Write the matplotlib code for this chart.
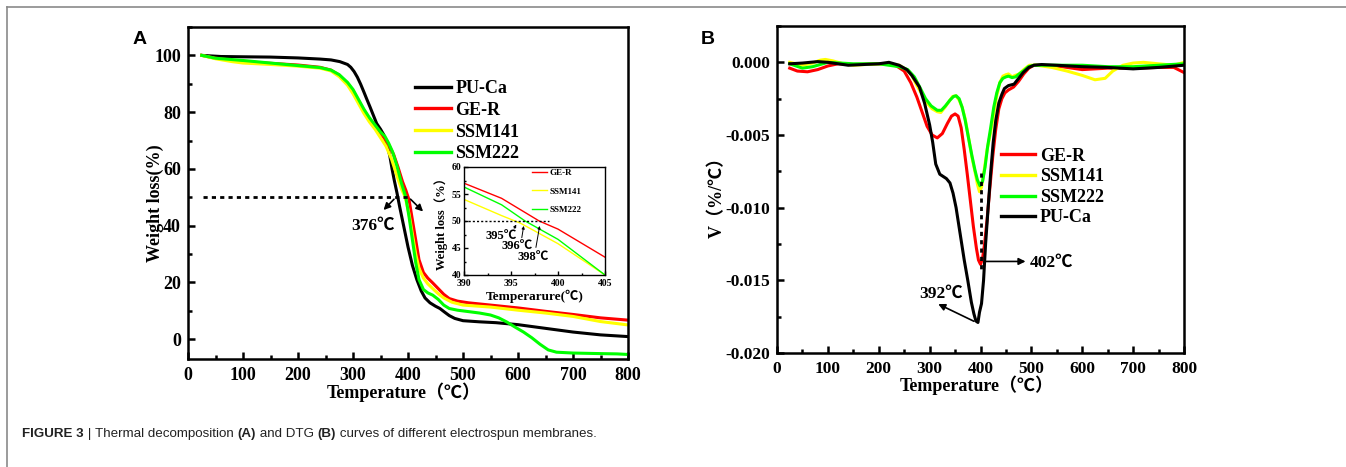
import numpy as np
import matplotlib
matplotlib.use("Agg")
import matplotlib.pyplot as plt
from matplotlib.ticker import MultipleLocator

SERIF = ['Liberation Serif', 'Noto Sans CJK SC', 'DejaVu Sans']
plt.rcParams['font.family'] = SERIF
plt.rcParams['font.weight'] = 'bold'

# ---------------- Panel A: TGA data ----------------
pu_T = [25, 60, 100, 150, 200, 240, 260, 276, 290, 296, 302, 308, 314, 320, 325, 331, 337, 343, 350, 356, 362, 367,
        371, 375, 380, 385, 392, 400, 408, 416, 424, 431, 440, 450, 458, 466, 475, 485, 500, 530, 560, 600, 650, 700,
        750, 800]
pu_W = [100, 99.6, 99.5, 99.4, 99.1, 98.7, 98.4, 97.8, 96.8, 95.8, 94.3, 92.3, 89.8, 87.0, 84.6, 81.8, 78.9, 76.0,
        74.0, 72.0, 68.5, 64.5, 60.0, 56.0, 51.5, 46.5, 40, 32.5, 26, 21, 17, 14.5, 12.8, 11.6, 10.8, 9.6, 8.3, 7.3,
        6.5, 6.1, 5.8, 5.1, 3.8, 2.5, 1.5, 0.9]

ge_T = [25, 50, 100, 150, 200, 240, 260, 275, 290, 300, 310, 320, 330, 340, 350, 358, 366, 374, 382, 390, 396, 402,
        408, 414, 420, 428, 436, 445, 455, 465, 475, 490, 510, 550, 600, 650, 700, 750, 800]
ge_W = [100, 99, 97.8, 97.2, 96.6, 95.8, 94.8, 93, 90, 87.5, 84, 80.5, 77.5, 75, 72.5, 70.5, 68, 65, 60.5, 55.5, 52.5,
        49, 42, 35, 28, 23.5, 21.5, 19.8, 17.8, 15.8, 14.3, 13.4, 12.8, 12, 11, 9.8, 8.7, 7.5, 6.7]

s141_T = [25, 50, 80, 100, 150, 200, 240, 260, 275, 290, 300, 310, 320, 330, 340, 350, 360, 370, 380, 388, 395, 402,
          408, 414, 420, 428, 436, 445, 455, 465, 480, 500, 550, 600, 650, 700, 750, 800]
s141_W = [100, 98.8, 97.8, 97.3, 96.8, 96.2, 95.5, 94.5, 92.5, 89.5, 86.5, 83, 79.5, 76.5, 74, 71, 68, 63.5, 57.5, 53,
          50, 44, 37, 30, 25, 21.5, 19.5, 17.8, 16, 14.5, 13, 12, 11.3, 10.2, 9.2, 8, 6.2, 5.0]

s222_T = [25, 50, 100, 150, 200, 240, 260, 275, 290, 300, 310, 320, 330, 340, 350, 358, 365, 372, 380, 388, 396, 402,
          408, 414, 420, 428, 436, 445, 455, 465, 475, 490, 510, 530, 550, 565, 580, 595, 610, 625, 640, 655, 670, 700,
          750, 780, 800]
s222_W = [100, 99, 98.2, 97.3, 96.4, 95.7, 94.8, 93.2, 90.5, 88, 84.5, 81, 78, 75.5, 73, 71.5, 69, 66, 61, 55, 50, 43,
          35, 27, 21, 17.5, 16.3, 15.5, 14, 12, 10.8, 10.2, 9.7, 9.2, 8.5, 7.5, 6, 4.2, 2.5, 0.5, -1.8, -3.8, -4.6,
          -4.9, -5.1, -5.2, -5.4]

# inset (zoom 390-405 C)
in_ge_T = [390, 394, 398, 400, 405]
in_ge_W = [57, 54.2, 50, 48.5, 43.3]
in_141_T = [390, 394, 396, 400, 405]
in_141_W = [54, 51, 49.6, 45.8, 40]
in_222_T = [390, 394, 396.5, 400, 405]
in_222_W = [56.3, 53, 50, 46.6, 40]

# ---------------- Panel B: DTG data (units of 0.001 %/C) ----------------
dpu_T = [25, 50, 80, 100, 120, 140, 170, 200, 220, 240, 255, 265, 280, 290, 300, 306, 312, 320, 333, 340, 346, 352,
         360, 368, 375, 382, 387, 391, 395, 398, 402, 406, 410, 415, 420, 425, 430, 436, 442, 447, 455, 466, 475, 484,
         495, 505, 520, 550, 600, 650, 700, 750, 800]
dpu_V = [-0.1, -0.05, 0.05, 0.0, -0.1, -0.2, -0.15, -0.1, 0.0, -0.2, -0.5, -0.9, -1.7, -2.8, -4.3, -5.5, -7.0, -7.7,
         -8.0, -8.3, -9.0, -10.0, -11.8, -13.6, -15.0, -16.5, -17.3, -17.8, -17.9, -17.2, -16.6, -15.0, -12.5, -10.0,
         -7.6, -5.5, -4.0, -2.8, -2.2, -1.8, -1.6, -1.5, -1.1, -0.7, -0.35, -0.2, -0.15, -0.2, -0.3, -0.35, -0.45,
         -0.35, -0.2]

dge_T = [25, 40, 60, 80, 100, 120, 150, 200, 220, 235, 250, 263, 275, 285, 295, 305, 315, 325, 335, 343, 350, 356,
         362, 368, 374, 380, 386, 392, 396, 400, 404, 408, 413, 418, 424, 430, 436, 442, 448, 455, 465, 475, 485, 495,
         505, 520, 560, 600, 650, 700, 750, 780, 800]
dge_V = [-0.4, -0.6, -0.65, -0.5, -0.25, -0.1, -0.15, -0.1, -0.1, -0.25, -0.6, -1.4, -2.4, -3.4, -4.4, -5.0, -5.2,
         -4.9, -4.2, -3.7, -3.55, -3.7, -4.5, -6.0, -7.7, -9.5, -11.3, -12.8, -13.6, -13.9, -13.5, -12.5, -10.8, -8.8,
         -6.5, -4.6, -3.2, -2.5, -2.1, -1.9, -1.7, -1.3, -0.8, -0.4, -0.2, -0.2, -0.3, -0.5, -0.4, -0.4, -0.35, -0.35,
         -0.7]

d141_T = [25, 50, 70, 85, 95, 110, 130, 150, 200, 240, 255, 265, 275, 285, 295, 305, 315, 322, 330, 338, 345, 352,
          358, 364, 370, 377, 383, 389, 394, 398, 402, 407, 413, 420, 426, 432, 438, 444, 450, 455, 462, 468, 476, 485,
          496, 510, 540, 570, 600, 625, 645, 660, 680, 700, 720, 750, 780, 800]
d141_V = [0.0, -0.2, -0.05, 0.15, 0.2, 0.1, -0.1, -0.2, -0.1, -0.2, -0.5, -0.9, -1.6, -2.2, -2.8, -3.2, -3.4, -3.45,
          -3.1, -2.7, -2.35, -2.3, -2.6, -3.1, -3.9, -5.3, -6.5, -7.5, -8.4, -8.9, -8.6, -7.5, -6.0, -4.8, -3.5, -2.3,
          -1.4, -0.95, -0.85, -0.8, -1.0, -0.9, -0.8, -0.5, -0.2, -0.2, -0.35, -0.6, -0.9, -1.2, -1.1, -0.6, -0.2,
          -0.05, 0.0, -0.1, -0.2, 0.0]

d222_T = [25, 50, 70, 100, 150, 200, 240, 257, 270, 282, 292, 303, 315, 323, 331, 340, 347, 352, 358, 364, 370, 377,
          383, 389, 394, 399, 404, 409, 414, 420, 426, 432, 438, 444, 450, 455, 462, 469, 476, 484, 494, 505, 550, 600,
          650, 700, 750, 800]
d222_V = [-0.1, -0.4, -0.3, 0.0, -0.1, -0.1, -0.3, -0.5, -1.0, -1.8, -2.5, -3.0, -3.3, -3.3, -3.0, -2.6, -2.35, -2.3,
          -2.5, -3.1, -4.0, -5.3, -6.4, -7.4, -8.1, -8.5, -8.2, -7.2, -5.8, -4.5, -3.1, -2.1, -1.4, -1.1, -1.0, -0.95,
          -1.05, -1.0, -0.8, -0.6, -0.3, -0.2, -0.2, -0.2, -0.3, -0.3, -0.2, -0.1]

RED, YEL, GRN, BLK = '#ff0000', '#ffff00', '#00ff00', '#000000'

W_PX, H_PX = 1346, 467
fig = plt.figure(figsize=(W_PX / 100, H_PX / 100), dpi=100)


def ax_rect(l, t, r, b):
    return [l / W_PX, 1 - b / H_PX, (r - l) / W_PX, (b - t) / H_PX]


def style_axes(ax, lw=1.8, size=13, major=5, minor=3, pad=6):
    for sp in ax.spines.values():
        sp.set_linewidth(lw)
    ax.tick_params(which='both', direction='in', top=False, right=False, width=lw)
    ax.tick_params(which='major', length=major, labelsize=size, pad=pad)
    ax.tick_params(which='minor', length=minor)
    for lab in ax.get_xticklabels() + ax.get_yticklabels():
        lab.set_fontweight('bold')


# ---------- Panel A ----------
axA = fig.add_axes(ax_rect(188, 27, 628, 359))
axA.plot(pu_T, pu_W, color=BLK, lw=2.2, label='PU-Ca')
axA.plot(ge_T, ge_W, color=RED, lw=2.2, label='GE-R')
axA.plot(s141_T, s141_W, color=YEL, lw=2.2, label='SSM141')
axA.plot(s222_T, s222_W, color=GRN, lw=2.2, label='SSM222')
axA.set_xlim(0, 800)
axA.set_ylim(-7, 110)
axA.xaxis.set_major_locator(MultipleLocator(100))
axA.xaxis.set_minor_locator(MultipleLocator(50))
axA.yaxis.set_minor_locator(MultipleLocator(10))
axA.set_yticks([0, 20, 40, 60, 80, 100])
style_axes(axA)
axA.tick_params(axis='y', pad=5)
axA.set_xlabel('Temperature（℃）', fontsize=13, fontweight='bold')
axA.xaxis.set_label_coords(0.49, -0.07)
axA.set_ylabel('Weight loss(%)', fontsize=13, fontweight='bold')
axA.yaxis.set_label_coords(-0.055, 0.47)
legA = axA.legend(loc='upper left', bbox_to_anchor=(0.515, 0.84), frameon=False, fontsize=13,
                  handlelength=2.0, handletextpad=0.25, labelspacing=0.26, borderpad=0, borderaxespad=0)
for t in legA.get_texts():
    t.set_fontweight('bold')
for l in legA.get_lines():
    l.set_linewidth(2.4)

axA.plot([27, 403], [50, 50], color=BLK, lw=2, ls=(0, (1.5, 1.5)))
arr = dict(arrowstyle='-|>', color=BLK, lw=1.2, mutation_scale=10)
axA.annotate('', xy=(352, 44.8), xytext=(378, 50), arrowprops=arr)
axA.annotate('', xy=(431, 44.3), xytext=(401, 50), arrowprops=arr)
axA.text(336, 40, '376℃', fontsize=12.5, fontweight='bold', ha='center', va='center')
fig.text(140 / W_PX, 1 - 40 / H_PX, 'A', fontsize=14, fontweight='bold', family='Liberation Sans',
         ha='center', va='center')

# inset
axI = fig.add_axes(ax_rect(464, 167, 605, 275))
axI.plot(in_ge_T, in_ge_W, color=RED, lw=1.0, label='GE-R')
axI.plot(in_141_T, in_141_W, color=YEL, lw=1.0, label='SSM141')
axI.plot(in_222_T, in_222_W, color=GRN, lw=1.0, label='SSM222')
axI.set_xlim(390, 405)
axI.set_ylim(40, 60)
axI.set_xticks([390, 395, 400, 405])
axI.set_yticks([40, 45, 50, 55, 60])
axI.xaxis.set_minor_locator(MultipleLocator(2.5))
axI.yaxis.set_minor_locator(MultipleLocator(2.5))
style_axes(axI, lw=1.0, size=7, major=3, minor=1.5, pad=2)
axI.tick_params(axis='x', pad=3)
axI.set_xlabel('Temperarure(℃)', fontsize=9.5, fontweight='bold')
axI.xaxis.set_label_coords(0.5, -0.14)
axI.set_ylabel('Weight loss（%）', fontsize=9, fontweight='bold')
axI.yaxis.set_label_coords(-0.113, 0.5)
legI = axI.legend(loc='upper left', bbox_to_anchor=(0.48, 0.985), frameon=False, fontsize=6.5,
                  handlelength=1.7, handletextpad=0.3, labelspacing=1.15, borderpad=0, borderaxespad=0)
for t in legI.get_texts():
    t.set_fontweight('bold')
axI.plot([390, 399], [50, 50], color=BLK, lw=1.0, ls=(0, (1.5, 1.5)))
arrI = dict(arrowstyle='-|>', color=BLK, lw=0.7, mutation_scale=4)
axI.annotate('', xy=(395.7, 49.8), xytext=(395.2, 48.2), arrowprops=arrI)
axI.annotate('', xy=(396.4, 49.6), xytext=(396.1, 46.4), arrowprops=arrI)
axI.annotate('', xy=(398.1, 49.6), xytext=(397.6, 44.6), arrowprops=arrI)
axI.text(394.0, 47.3, '395℃', fontsize=9, fontweight='bold', ha='center', va='center')
axI.text(395.6, 45.4, '396℃', fontsize=9, fontweight='bold', ha='center', va='center')
axI.text(397.4, 43.4, '398℃', fontsize=9, fontweight='bold', ha='center', va='center')

# ---------- Panel B ----------
axB = fig.add_axes(ax_rect(777, 26, 1184, 353))
s = 0.001
axB.plot(dge_T, np.array(dge_V) * s, color=RED, lw=2.2, label='GE-R')
axB.plot(d141_T, np.array(d141_V) * s, color=YEL, lw=2.2, label='SSM141')
axB.plot(d222_T, np.array(d222_V) * s, color=GRN, lw=2.2, label='SSM222')
axB.plot(dpu_T, np.array(dpu_V) * s, color=BLK, lw=2.2, label='PU-Ca')
axB.set_xlim(0, 800)
axB.set_ylim(-0.020, 0.0025)
axB.xaxis.set_major_locator(MultipleLocator(100))
axB.xaxis.set_minor_locator(MultipleLocator(50))
axB.set_yticks([-0.020, -0.015, -0.010, -0.005, 0.000])
axB.yaxis.set_minor_locator(MultipleLocator(0.0025))
axB.yaxis.set_major_formatter(matplotlib.ticker.FuncFormatter(lambda v, p: f'{v:.3f}'.replace('-0.000', '0.000')))
style_axes(axB, size=12.5)
axB.tick_params(axis='y', pad=5)
axB.set_xlabel('Temperature（℃）', fontsize=13, fontweight='bold')
axB.xaxis.set_label_coords(0.49, -0.07)
axB.set_ylabel('V（%/℃）', fontsize=13, fontweight='bold')
axB.yaxis.set_label_coords(-0.125, 0.49)
legB = axB.legend(loc='upper left', bbox_to_anchor=(0.551, 0.628), frameon=False, fontsize=13,
                  handlelength=1.85, handletextpad=0.28, labelspacing=0.2, borderpad=0, borderaxespad=0)
for t in legB.get_texts():
    t.set_fontweight('bold')
for l in legB.get_lines():
    l.set_linewidth(2.4)

axB.plot([400.7, 400.7], [-0.0076, -0.0143], color=BLK, lw=2, ls=(0, (1.5, 1.5)))
arrB = dict(arrowstyle='-|>', color=BLK, lw=1.2, mutation_scale=10)
axB.annotate('', xy=(494, -0.0137), xytext=(402, -0.0137), arrowprops=arrB)
axB.text(497, -0.0138, '402℃', fontsize=12.5, fontweight='bold', ha='left', va='center')
axB.annotate('', xy=(312, -0.01655), xytext=(392, -0.0179), arrowprops=arrB)
axB.text(322, -0.0159, '392℃', fontsize=12.5, fontweight='bold', ha='center', va='center')
fig.text(708 / W_PX, 1 - 39 / H_PX, 'B', fontsize=14, fontweight='bold', family='Liberation Sans',
         ha='center', va='center')

# ---------- frame & caption ----------
fig.add_artist(plt.Line2D([7 / W_PX, 1], [1 - 7 / H_PX, 1 - 7 / H_PX], color='#8a8a8a', lw=1.2))
fig.add_artist(plt.Line2D([7 / W_PX, 7 / W_PX], [0, 1 - 7 / H_PX], color='#8a8a8a', lw=1.2))

fig.canvas.draw()
renderer = fig.canvas.get_renderer()
pieces = [('FIGURE 3', 'bold'), (' | ', 'normal'), ('Thermal decomposition ', 'normal'), ('(A)', 'bold'),
          (' and DTG ', 'normal'), ('(B)', 'bold'), (' curves of different electrospun membranes.', 'normal')]
x = 22
ycap = 1 - 434 / H_PX
for txt, w in pieces:
    t = fig.text(x / W_PX, ycap, txt, fontsize=9.6, fontweight=w, family='Liberation Sans', color='#222222',
                 ha='left', va='center')
    bb = t.get_window_extent(renderer)
    x += bb.width

fig.savefig('out.png', dpi=100)
